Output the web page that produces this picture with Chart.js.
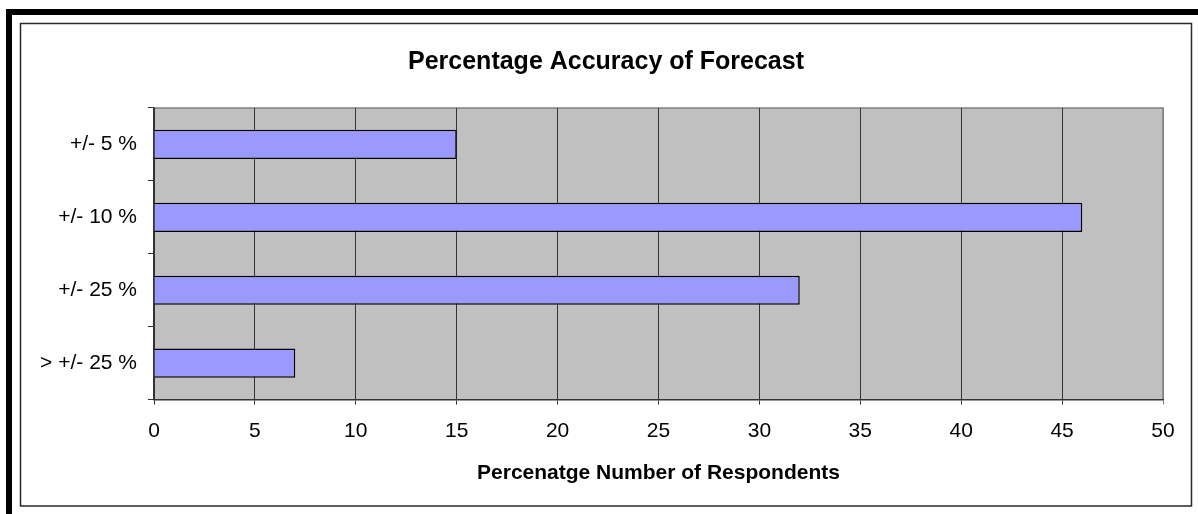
<!DOCTYPE html>
<html>
<head>
<meta charset="utf-8">
<script src="https://cdn.jsdelivr.net/npm/chart.js@4/dist/chart.umd.min.js"></script>
<style>
    body { margin:0; background:#ffffff; }
    canvas { display:block; }
</style>
</head>
<body>
<canvas id="graphique" width="1198" height="514"></canvas>
<script>
// Données du graphique
const categories = ["+/- 5 %", "+/- 10 %", "+/- 25 %", "> +/- 25 %"];
const valeurs = [15, 46, 32, 7];
const graduationMin = 0;
const graduationMax = 50;
const graduationPas = 5;
const titre = "Percentage Accuracy of Forecast";
const titreAxeX = "Percenatge Number of Respondents";

const police = "'Liberation Sans', Arial, sans-serif";

// Cadre noir + cadre fin + fond gris de la zone de tracé
const cadre = {
    id: "cadre",
    beforeDraw(chart) {
        const ctx = chart.ctx;
        const zone = chart.chartArea;
        ctx.save();
        // bordure noire épaisse (haut et gauche)
        ctx.fillStyle = "#000000";
        ctx.fillRect(6, 9, 1192, 6);
        ctx.fillRect(6, 9, 6, 505);
        // cadre fin
        ctx.strokeStyle = "#2a2a2a";
        ctx.lineWidth = 1.5;
        ctx.strokeRect(20.5, 23.5, 1171, 482.5);
        // fond gris
        ctx.fillStyle = "#c0c0c0";
        ctx.fillRect(zone.left, zone.top, zone.right - zone.left, zone.bottom - zone.top);
        ctx.strokeStyle = "#808080";
        ctx.lineWidth = 1.5;
        ctx.beginPath();
        ctx.moveTo(zone.left, zone.top);
        ctx.lineTo(zone.right, zone.top);
        ctx.lineTo(zone.right, zone.bottom);
        ctx.stroke();
        ctx.restore();
    }
};

const data = {
    labels: categories,
    datasets: [{
        data: valeurs,
        backgroundColor: "#9999ff",
        borderColor: "#000000",
        borderWidth: 1.5,
        barPercentage: 0.4,
        categoryPercentage: 1
    }]
};

const config = {
    type: "bar",
    data: data,
    plugins: [cadre],
    options: {
        indexAxis: "y",
        responsive: false,
        animation: false,
        layout: {
            padding: { left: 20, right: 6, top: 23, bottom: 8 }
        },
        plugins: {
            legend: { display: false },
            tooltip: { enabled: false },
            title: {
                display: true,
                text: titre,
                color: "#000000",
                font: { family: police, size: 25, weight: "bold" },
                padding: { top: 24.5, bottom: 30.5 }
            }
        },
        scales: {
            x: {
                min: graduationMin,
                max: graduationMax,
                ticks: {
                    stepSize: graduationPas,
                    color: "#000000",
                    padding: 14,
                    font: { family: police, size: 21 }
                },
                grid: {
                    color: (c) => c.index === (graduationMax - graduationMin) / graduationPas ? "#808080" : "#333333",
                    lineWidth: 1,
                    tickLength: 5
                },
                border: { color: "#333333", width: 1.5 },
                title: {
                    display: true,
                    text: titreAxeX,
                    color: "#000000",
                    font: { family: police, size: 21, weight: "bold" },
                    padding: { top: 3, bottom: 20 }
                }
            },
            y: {
                ticks: {
                    color: "#000000",
                    padding: 11,
                    font: { family: police, size: 21 }
                },
                grid: {
                    drawOnChartArea: false,
                    color: "#333333",
                    tickLength: 6
                },
                border: { color: "#333333", width: 1.5 },
                afterFit(scale) {
                    scale.width = 134;
                }
            },
            // axe vide à droite : juste pour garder la marge blanche
            marge: {
                type: "category",
                axis: "y",
                position: "right",
                ticks: { display: false },
                grid: { display: false },
                border: { display: false },
                afterFit(scale) {
                    scale.width = 29;
                }
            }
        }
    }
};

new Chart(document.querySelector("#graphique"), config);
</script>
</body>
</html>
